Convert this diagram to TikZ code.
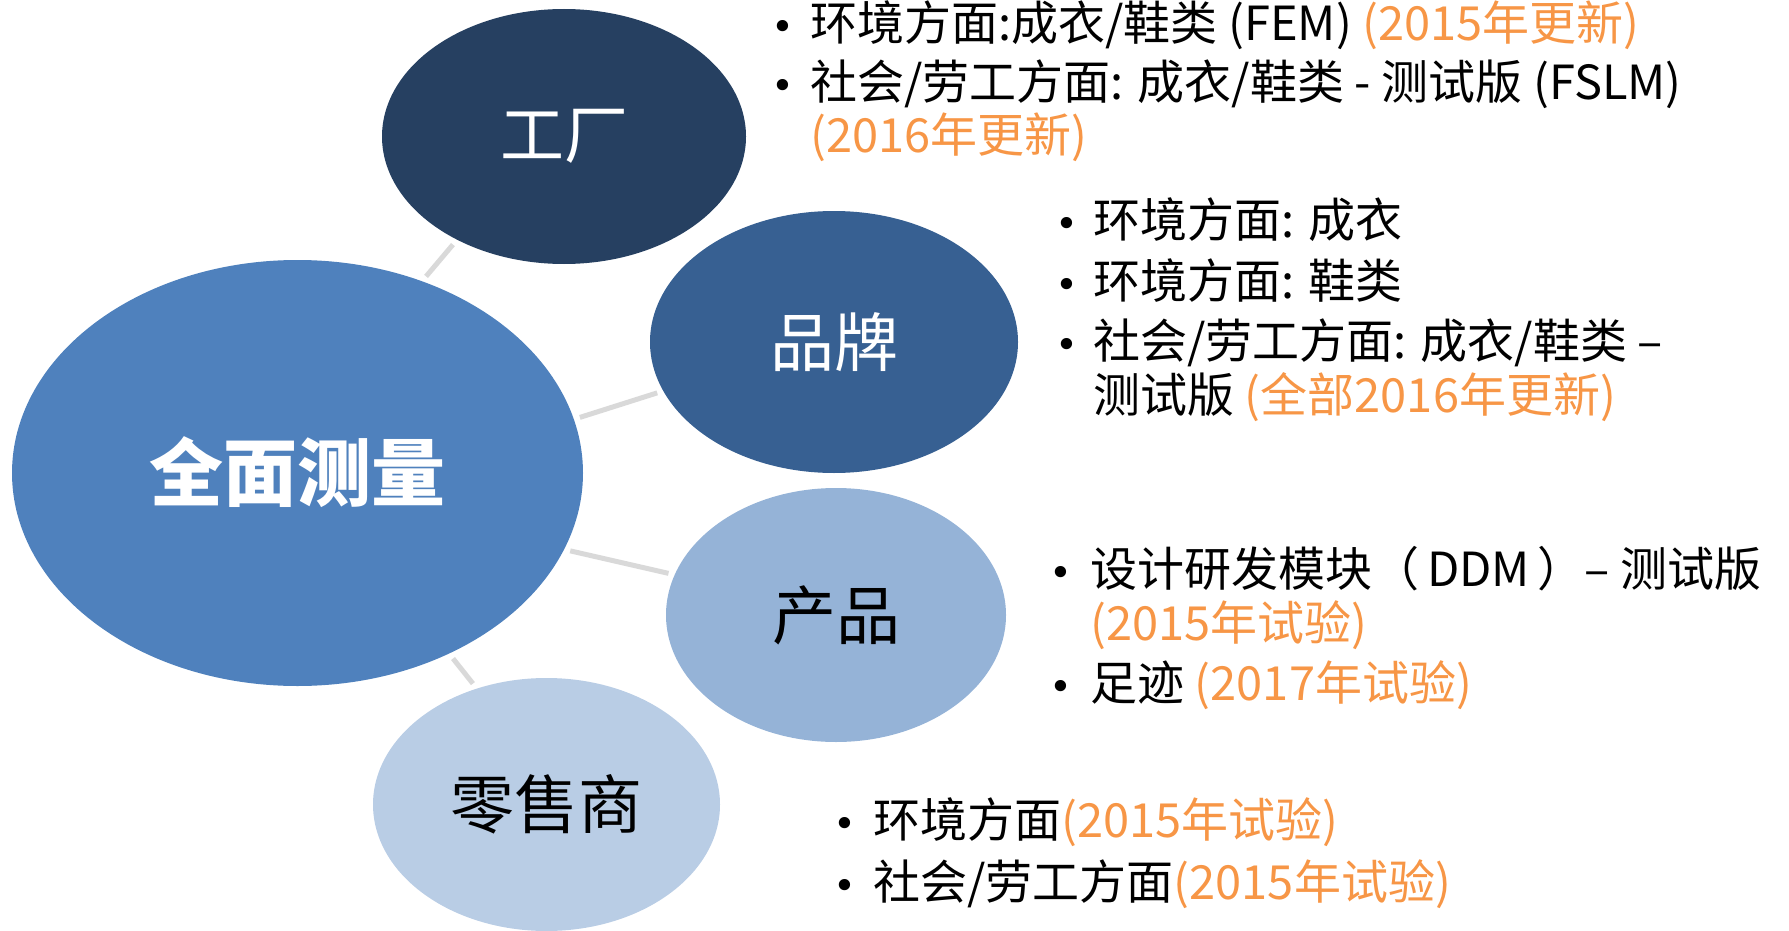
\documentclass[tikz,border=0pt]{standalone}
\usepackage{fontspec}
\setmainfont{Noto Sans CJK SC}
\newfontfamily\dejavu{DejaVu Sans}
\usetikzlibrary{shapes.geometric}
\definecolor{cFac}{HTML}{264061}
\definecolor{cBrand}{HTML}{376092}
\definecolor{cMain}{HTML}{4F81BD}
\definecolor{cProd}{HTML}{95B3D7}
\definecolor{cRet}{HTML}{B9CDE5}
\definecolor{cOrg}{HTML}{F79646}
\definecolor{cLine}{HTML}{D9D9D9}
\newcommand\bodyfont{\fontsize{23.5}{27}\selectfont}
\newcommand\dotfont{\fontsize{19.4}{27}\selectfont\dejavu}
\newcommand\org[1]{\textcolor{cOrg}{#1}}
\begin{document}
\begin{tikzpicture}[x=0.5pt,y=-0.5pt,
 bub/.style={ellipse, inner sep=0, draw=none},
 conn/.style={line width=2.5pt, draw=cLine, shorten <=3pt, shorten >=3pt},
 ln/.style={anchor=base west, inner sep=0, font=\bodyfont},
 dot/.style={anchor=base, inner sep=0, font=\dotfont}]
\useasboundingbox (0,0) rectangle (1789,931);
% bubbles
\node[bub, fill=cMain, minimum width=285.5pt, minimum height=213pt, text=white, font=\fontsize{37}{40}\selectfont\bfseries] (main) at (297.5,473) {\raisebox{4pt}{全面测量}};
\node[bub, fill=cFac, minimum width=182pt, minimum height=127.5pt, text=white, font=\fontsize{32}{36}\selectfont] (fac) at (564,136.5) {工厂};
\node[bub, fill=cBrand, minimum width=184pt, minimum height=131pt, text=white, font=\fontsize{32}{36}\selectfont] (brand) at (834,342) {品牌};
\node[bub, fill=cProd, minimum width=170pt, minimum height=127pt, text=black, font=\fontsize{32}{36}\selectfont] (prod) at (836,615) {产品};
\node[bub, fill=cRet, minimum width=173.5pt, minimum height=126.5pt, text=black, font=\fontsize{32}{36}\selectfont] (ret) at (546.5,804.5) {零售商};
% connectors
\draw[conn] (main.57.6) -- (fac.224);
\draw[conn] (main.11.1) -- (brand.196.9);
\draw[conn] (main.-16.3) -- (prod.166.1);
\draw[conn] (main.-50.2) -- (ret.121.4);
% factory block
\node[dot] (b11) at (783,41) {•};
\node[ln] (t11) at (810,41) {环境方面:成衣/鞋类 (FEM) \org{(2015年更新)}};
\node[dot] (b12) at (783,100) {•};
\node[ln] (t12) at (810,100) {社会/劳工方面: 成衣/鞋类 - 测试版 (FSLM)};
\node[ln] (t13) at (810,153) {\org{(2016年更新)}};
% brand block
\node[dot] (b21) at (1067,237) {•};
\node[ln] (t21) at (1093,237) {环境方面: 成衣};
\node[dot] (b22) at (1067,298) {•};
\node[ln] (t22) at (1093,298) {环境方面: 鞋类};
\node[dot] (b23) at (1067,358) {•};
\node[ln] (t23) at (1093,358) {社会/劳工方面: 成衣/鞋类 –};
\node[ln] (t24) at (1093,412) {测试版 \org{(全部2016年更新)}};
% product block
\node[dot] (b31) at (1061,586) {•};
\node[ln] (t31) at (1090,586) {设计研发模块（\,DDM\,）– 测试版};
\node[ln] (t32) at (1090,640) {\org{(2015年试验)}};
\node[dot] (b33) at (1061,700) {•};
\node[ln] (t33) at (1090,700) {足迹 \org{(2017年试验)}};
% retailer block
\node[dot] (b41) at (845,837) {•};
\node[ln] (t41) at (873,837) {环境方面\org{(2015年试验)}};
\node[dot] (b42) at (845,899) {•};
\node[ln] (t42) at (873,899) {社会/劳工方面\org{(2015年试验)}};
\end{tikzpicture}
\end{document}
